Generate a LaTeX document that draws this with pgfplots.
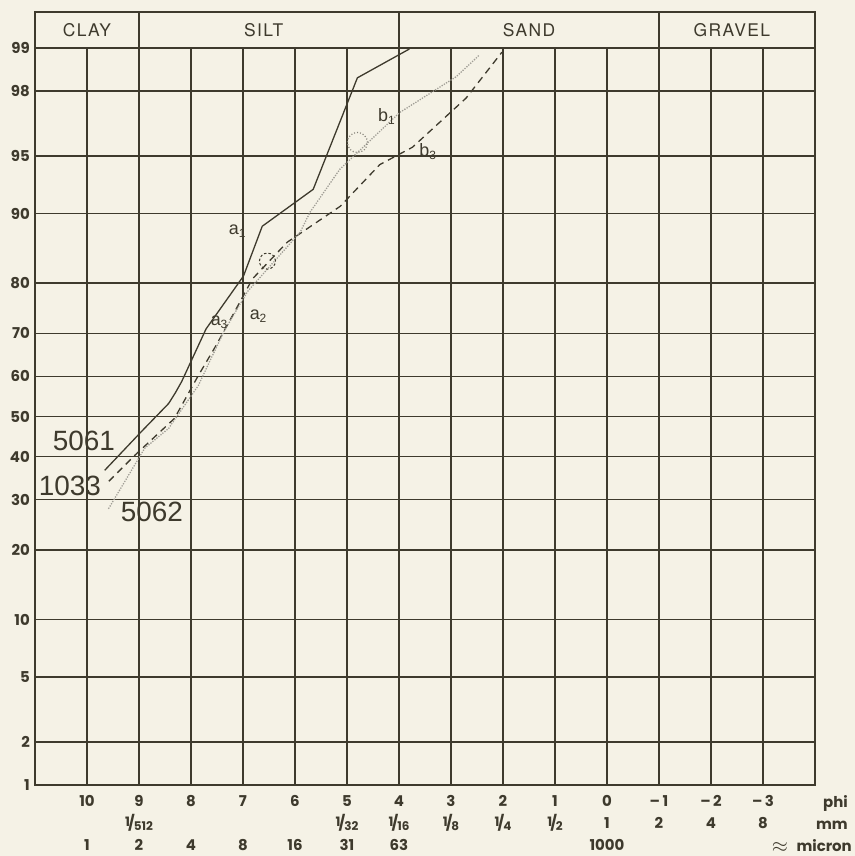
\documentclass[border=0pt]{standalone}
\usepackage{pgfplots}
\pgfplotsset{compat=1.18}
\usepackage{fontspec}
\setmainfont{Poppins}
\newfontfamily\hdrfont[LetterSpace=8]{TeX Gyre Heros}
\newfontfamily\lblfont{Liberation Sans}
\definecolor{ink}{RGB}{62,58,45}
\definecolor{paper}{RGB}{245,242,230}
\definecolor{dotgrey}{RGB}{160,158,150}
\newcommand\tickfont{\fontsize{15}{22}\selectfont\bfseries}
\newcommand\fr[2]{\raisebox{.25ex}{\fontsize{13}{13}\selectfont #1}\kern-.12em{\fontsize{15}{15}\selectfont/}\kern-.08em\raisebox{-.3ex}{\fontsize{12}{12}\selectfont #2}}
\newcommand\sub[2]{#1\raisebox{-3bp}{\fontsize{12}{12}\selectfont #2}}

% cumulative curves: phi, probit of cumulative percent (read from the probability scale)
\pgfplotstableread{
phi z
9.66 -0.340
8.95 -0.094
8.43 0.082
8.30 0.150
8.18 0.220
7.71 0.553
6.99 0.887
6.63 1.201
5.65 1.434
4.80 2.138
3.80 2.320
}\sampleA
\pgfplotstableread{
phi z
9.58 -0.409
9.08 -0.245
8.32 -0.013
7.86 0.258
7.52 0.447
7.10 0.698
6.82 0.868
6.15 1.100
5.13 1.327
4.37 1.590
3.74 1.700
2.71 2.010
2.02 2.300
}\sampleB
\pgfplotstableread{
phi z
9.58 -0.579
8.89 -0.200
8.43 -0.075
7.86 0.195
7.37 0.535
6.91 0.790
5.90 1.164
5.71 1.290
5.14 1.560
3.99 1.918
2.90 2.145
2.46 2.280
}\sampleC

\begin{document}
\begin{tikzpicture}
\fill[paper] (0,0) rectangle (855bp,856bp);
\begin{axis}[
  at={(35bp,71bp)}, anchor=south west,
  scale only axis, width=780bp, height=737bp,
  xmin=-4, xmax=11, x dir=reverse,
  ymin=-2.3263, ymax=2.3263,
  clip=false,
  xtick={10,9,8,7,6,5,4,3,2,1,0,-1,-2,-3},
  xticklabels={
    {\strut 10\\\strut\\\strut 1},
    {\strut 9\\\strut\fr{1}{512}\\\strut 2},
    {\strut 8\\\strut\\\strut 4},
    {\strut 7\\\strut\\\strut 8},
    {\strut 6\\\strut\\\strut 16},
    {\strut 5\\\strut\fr{1}{32}\\\strut 31},
    {\strut 4\\\strut\fr{1}{16}\\\strut 63},
    {\strut 3\\\strut\fr{1}{8}\\\strut},
    {\strut 2\\\strut\fr{1}{4}\\\strut},
    {\strut 1\\\strut\fr{1}{2}\\\strut},
    {\strut 0\\\strut 1\\\strut 1000},
    {\strut \textendash\,1\\\strut 2\\\strut},
    {\strut \textendash\,2\\\strut 4\\\strut},
    {\strut \textendash\,3\\\strut 8\\\strut}},
  xticklabel style={font=\tickfont, align=center, anchor=north, inner sep=0pt, yshift=-6bp, text=ink},
  ytick={-2.3263,-2.0537,-1.6449,-1.2816,-0.8416,-0.5244,-0.2533,0,0.2533,0.5244,0.8416,1.2816,1.6449,2.0537,2.3263},
  yticklabels={1,2,5,10,20,30,40,50,60,70,80,90,95,98,99},
  yticklabel style={font=\tickfont, anchor=east, inner sep=0pt, xshift=-5bp, text=ink},
  major tick length=0pt,
  grid=major,
  major grid style={ink, line width=1.4bp},
  axis line style={ink, line width=1.8bp},
]
\addplot[ink, line width=1.3bp, mark=none] table[x=phi, y=z] {\sampleA};
\addplot[ink, line width=1.3bp, mark=none, dash pattern=on 7bp off 5bp] table[x=phi, y=z] {\sampleB};
\addplot[dotgrey, line width=1.8bp, mark=none, line cap=round, dash pattern=on 0bp off 2.6bp] table[x=phi, y=z] {\sampleC};

% header band
\draw[ink, line width=1.8bp] (rel axis cs:0,1) rectangle (rel axis cs:1,1.0489);
\draw[ink, line width=1.8bp] (axis cs:9,2.3263) -- ++(0pt,36bp);
\draw[ink, line width=1.8bp] (axis cs:4,2.3263) -- ++(0pt,36bp);
\draw[ink, line width=1.8bp] (axis cs:-1,2.3263) -- ++(0pt,36bp);
\node[font=\hdrfont\fontsize{17.5}{17.5}\selectfont, text=ink] at (axis cs:10,2.4400) {CLAY};
\node[font=\hdrfont\fontsize{17.5}{17.5}\selectfont, text=ink] at (axis cs:6.6,2.4400) {SILT};
\node[font=\hdrfont\fontsize{17.5}{17.5}\selectfont, text=ink] at (axis cs:1.5,2.4400) {SAND};
\node[font=\hdrfont\fontsize{17.5}{17.5}\selectfont, text=ink] at (axis cs:-2.4,2.4400) {GRAVEL};

% sample labels
\node[font=\lblfont\fontsize{28}{28}\selectfont, text=ink, inner sep=0pt] at (axis cs:10.06,-0.157) {5061};
\node[font=\lblfont\fontsize{28}{28}\selectfont, text=ink, inner sep=0pt] at (axis cs:10.33,-0.440) {1033};
\node[font=\lblfont\fontsize{28}{28}\selectfont, text=ink, inner sep=0pt] at (axis cs:8.75,-0.604) {5062};

% segment labels
\node[font=\lblfont\fontsize{18}{18}\selectfont, text=ink, inner sep=0pt] at (axis cs:7.11,1.17) {\sub{a}{1}};
\node[font=\lblfont\fontsize{18}{18}\selectfont, text=ink, inner sep=0pt] at (axis cs:6.71,0.635) {\sub{a}{2}};
\node[font=\lblfont\fontsize{18}{18}\selectfont, text=ink, inner sep=0pt] at (axis cs:7.46,0.597) {\sub{a}{3}};
\node[font=\lblfont\fontsize{18}{18}\selectfont, text=ink, inner sep=0pt] at (axis cs:4.24,1.893) {\sub{b}{1}};
\node[font=\lblfont\fontsize{18}{18}\selectfont, text=ink, inner sep=0pt] at (axis cs:3.45,1.673) {\sub{b}{3}};

% small circles
\draw[ink, line width=1bp, dash pattern=on 2.5bp off 2bp] (axis cs:6.53,0.981) circle[radius=8bp];
\draw[dotgrey!70!ink, line width=1.2bp, dash pattern=on 1bp off 2bp] (axis cs:4.80,1.730) circle[radius=10bp];
\end{axis}
% right-hand row names
\node[font=\tickfont, text=ink, anchor=base east, inner sep=0pt] at (848bp,48.5bp) {phi};
\node[font=\tickfont, text=ink, anchor=base east, inner sep=0pt] at (848bp,26.5bp) {mm};
\node[font=\tickfont, text=ink, anchor=base east, inner sep=0pt] at (852bp,4.5bp) {micron};
\node[font=\fontsize{20}{20}\selectfont, text=ink, anchor=base, inner sep=0pt] at (780bp,3.5bp) {$\approx$};
\pgfresetboundingbox
\path[use as bounding box] (0,0) rectangle (855bp,856bp);
\end{tikzpicture}
\end{document}
